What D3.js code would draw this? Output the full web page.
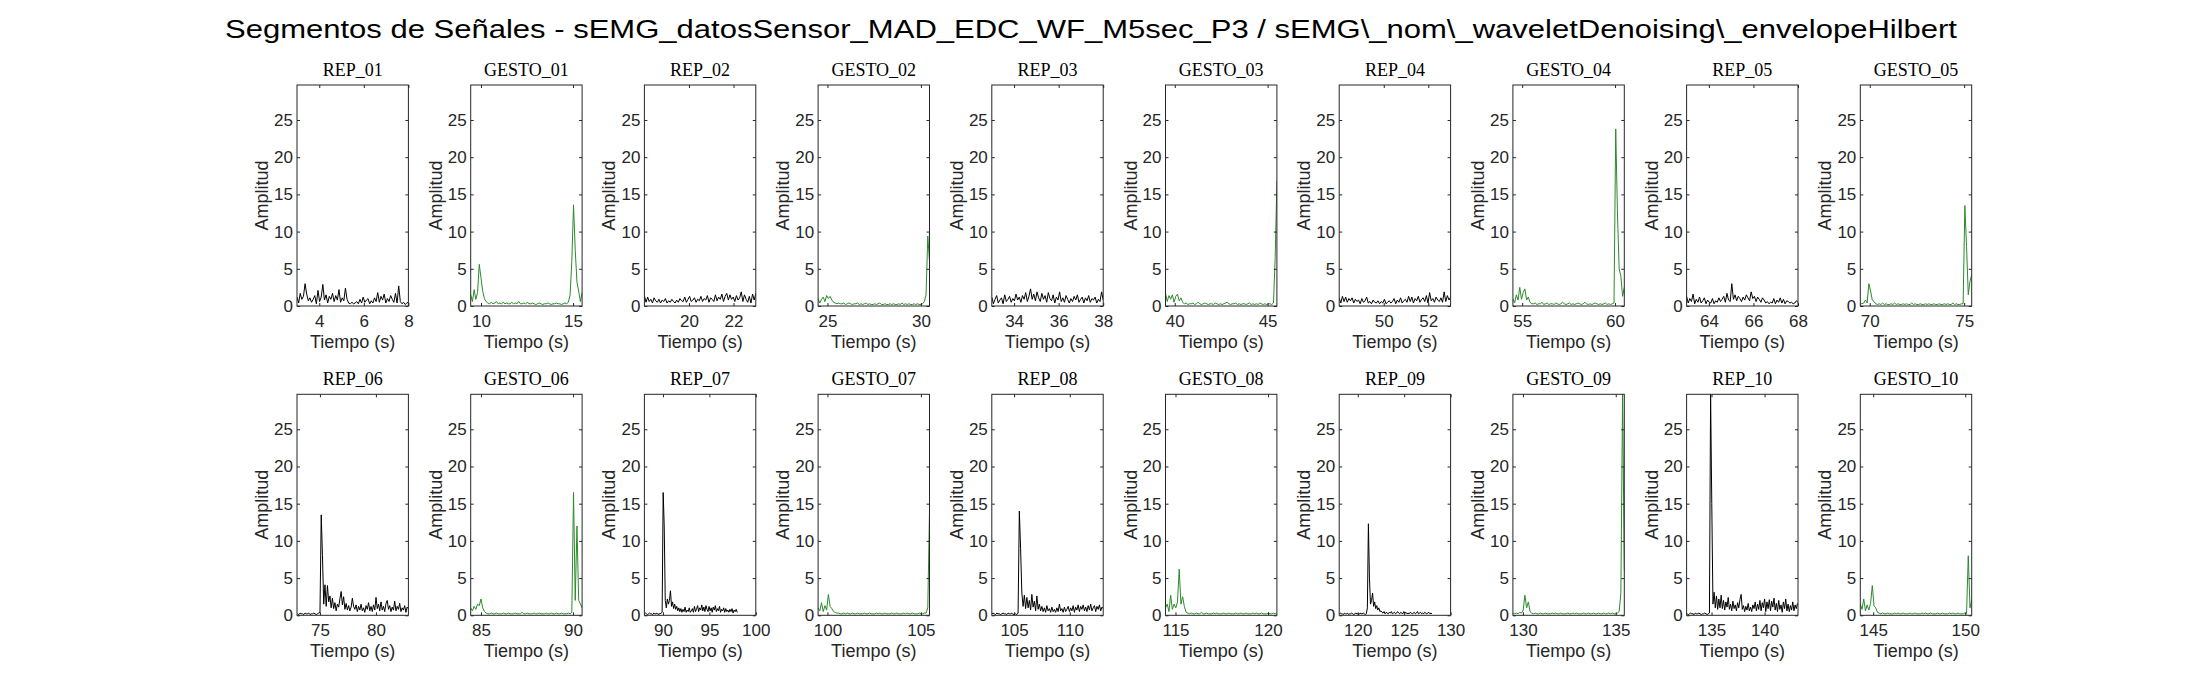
<!DOCTYPE html>
<html>
<head>
<meta charset="utf-8">
<script src="https://cdn.jsdelivr.net/npm/d3@7"></script>
<style>
body { margin: 0; background: #fff; }
svg text { font-family: "Liberation Sans", Arial, Helvetica, sans-serif; }
</style>
</head>
<body>
<svg id="fig" width="2187" height="688"></svg>
<script>
// panel titles, left-to-right, top row then bottom row
var titles = ["REP_01","GESTO_01","REP_02","GESTO_02","REP_03","GESTO_03","REP_04","GESTO_04","REP_05","GESTO_05",
              "REP_06","GESTO_06","REP_07","GESTO_07","REP_08","GESTO_08","REP_09","GESTO_09","REP_10","GESTO_10"];

// time span covered by each segment's samples (s)
var tStart = [3, 9.44, 18, 24.5, 33, 39.5, 48, 54.5, 63, 69.5,
              73, 84.44, 88, 99.5, 103, 114.46, 118, 129.46, 132.7, 144.3];
var tEnd   = [8, 15.49, 23, 30.46, 38, 45.5, 53, 60.5, 68, 75.4,
              82.9, 90.49, 98, 105.46, 113, 120.48, 128, 135.46, 143.1, 150.35];

// x limits of each axes
var xLims = [[3,8],[9.44,15.49],[18,23],[24.5,30.46],[33,38],[39.5,45.5],[48,53],[54.5,60.5],[63,68],[69.5,75.4],
             [72.95,82.9],[84.44,90.49],[88,100],[99.5,105.46],[103,113],[114.46,120.48],[118,130],[129.46,135.46],[132.65,143.15],[144.3,150.35]];

var xTicks = [[4,6,8],[10,15],[20,22],[25,30],[34,36,38],[40,45],[50,52],[55,60],[64,66,68],[70,75],
              [75,80],[85,90],[90,95,100],[100,105],[105,110],[115,120],[120,125,130],[130,135],[135,140],[145,150]];

var yTicks = [0, 5, 10, 15, 20, 25];

// amplitude samples (evenly spaced between tStart and tEnd)
var rep01 = [1.2,0.4,1.7,0.9,1.3,3.0,1.6,0.7,1.1,0.5,
  0.9,1.4,0.3,2.1,0.6,1.2,2.9,0.8,1.5,0.4,
  1.3,0.9,1.7,0.6,1.4,0.8,2.2,0.5,1.1,0.7,
  2.4,0.9,0.4,0.3,0.5,0.3,0.4,0.6,0.3,0.9,
  0.4,1.2,0.5,0.8,1.0,0.3,0.7,0.4,1.1,0.6,
  1.8,0.5,1.3,0.8,1.6,0.4,1.0,0.6,1.4,0.9,
  0.5,1.7,0.4,2.7,0.6,0.3,0.5,0.2,0.4,0.5];

var gesto01 = [1.5,0.6,2.2,0.9,1.8,5.6,3.8,2.0,1.0,0.6,0.4,
  0.3,0.5,0.3,0.4,0.6,0.3,0.4,0.3,0.5,0.3,
  0.4,0.3,0.3,0.5,0.3,0.4,0.3,0.6,0.3,0.3,
  0.4,0.3,0.5,0.3,0.3,0.4,0.3,0.2,0.3,0.4,
  0.3,0.2,0.3,0.3,0.4,0.3,0.2,0.3,0.3,0.4,
  0.3,0.3,0.2,0.3,0.4,0.3,0.5,
  1.5,6.0,13.6,7.5,3.2,2.0,0.6,1.8];

var rep02 = [1.4,0.5,1.2,0.6,0.9,0.4,1.1,0.7,0.5,0.9,
  0.4,0.8,0.6,1.0,0.4,0.7,0.5,0.9,0.6,0.4,
  0.8,0.5,1.0,0.7,0.6,1.2,0.5,0.9,1.3,0.6,
  0.8,1.1,0.5,0.9,0.7,1.3,0.6,1.0,0.8,1.4,
  0.5,1.1,0.9,0.6,1.5,0.7,1.2,0.9,1.6,0.6,
  1.3,1.7,0.8,1.5,0.9,1.2,0.6,1.4,0.8,1.1,
  1.9,0.6,1.5,0.9,0.5,1.3,0.4,1.6,0.8,1.7];

var gesto02 = [1.0,0.4,0.9,1.2,0.6,1.4,1.0,1.3,0.8,0.5,0.4,0.3,
  0.4,0.3,0.3,0.4,0.2,0.3,0.4,0.3,0.2,0.3,
  0.3,0.4,0.2,0.3,0.2,0.3,0.4,0.2,0.3,0.2,
  0.2,0.3,0.2,0.3,0.4,0.2,0.2,0.3,0.2,0.2,
  0.3,0.2,0.3,0.2,0.2,0.3,0.2,0.4,0.2,0.3,
  0.2,0.3,0.2,0.2,0.3,0.2,0.3,0.2,0.2,
  0.3,0.6,1.5,9.4,6.0];

var rep03 = [1.2,0.3,0.9,1.4,0.4,0.8,1.1,0.3,1.5,0.6,
  0.9,1.3,0.5,1.0,0.7,1.6,0.8,1.2,0.5,1.4,
  0.9,1.8,0.6,1.3,2.3,0.9,1.6,0.7,1.9,1.1,
  0.6,1.7,0.9,1.4,0.5,1.8,1.0,0.7,1.5,0.4,
  1.2,0.8,1.9,0.6,1.1,0.5,1.4,0.9,0.4,1.0,
  0.6,1.3,0.8,1.5,0.5,0.9,1.2,0.4,1.1,0.7,
  1.4,0.5,1.0,0.8,1.2,0.4,0.9,0.6,1.9,0.8];

var gesto03 = [1.7,0.6,1.4,0.9,1.5,0.5,1.3,1.6,0.7,1.1,0.5,0.3,
  0.4,0.2,0.3,0.3,0.4,0.2,0.3,0.5,0.3,0.2,
  0.3,0.4,0.3,0.2,0.3,0.3,0.2,0.4,0.3,0.2,
  0.3,0.2,0.3,0.4,0.5,0.3,0.2,0.3,0.3,0.4,
  0.2,0.3,0.2,0.3,0.3,0.2,0.3,0.4,0.2,0.3,
  0.2,0.3,0.2,0.4,0.3,0.2,0.3,0.2,0.3,0.3,
  0.2,
  0.4,6.5,16.8];

var rep04 = [1.1,0.4,1.3,0.6,1.2,0.5,1.0,0.7,1.1,0.4,
  0.9,0.6,0.8,0.3,1.0,0.5,0.7,1.2,0.4,0.6,
  0.3,0.8,0.5,0.4,0.7,0.3,0.6,0.4,0.9,0.3,
  0.5,0.7,0.4,0.6,1.0,0.3,0.8,0.5,1.1,0.4,
  0.7,0.9,0.5,1.3,0.6,1.2,0.4,1.0,0.7,1.3,
  0.5,0.9,1.1,0.6,1.4,0.4,1.8,0.7,1.0,0.5,
  1.2,0.8,0.6,1.1,0.5,1.9,0.6,1.4,0.8,1.2];

var gesto04 = [1.0,0.4,1.5,0.8,2.5,0.9,1.8,2.3,0.8,1.2,0.5,0.3,
  0.3,0.4,0.2,0.3,0.3,0.5,0.2,0.3,0.4,0.2,
  0.3,0.3,0.2,0.4,0.3,0.2,0.3,0.5,0.3,0.2,
  0.3,0.4,0.2,0.3,0.2,0.3,0.4,0.3,0.2,0.3,
  0.5,0.3,0.2,0.3,0.2,0.3,0.4,0.3,0.2,0.3,
  0.2,0.3,0.4,0.2,0.3,0.2,0.3,
  0.4,23.8,12.5,5.0,4.0,1.3,2.5];

var rep05 = [1.3,0.4,1.0,0.6,1.6,0.3,0.9,0.5,1.2,0.4,
  0.7,1.1,0.3,0.8,0.5,0.4,1.0,0.3,0.7,0.5,
  1.1,0.6,0.9,1.3,0.5,1.7,0.8,0.6,3.0,0.9,
  1.5,0.7,1.3,1.0,0.6,1.2,0.8,1.5,1.1,0.7,
  1.9,1.0,1.3,0.6,1.2,0.9,0.5,1.1,0.8,0.4,
  0.6,0.3,0.5,0.4,1.0,0.3,0.8,0.5,1.1,0.4,
  0.9,0.3,0.7,0.6,0.4,0.5,0.3,0.4,0.7,0.5];

var gesto05 = [0.3,0.3,0.4,0.8,0.4,3.0,2.0,0.8,0.6,0.3,
  0.2,0.3,0.2,0.4,0.2,0.3,0.2,0.2,0.3,0.2,
  0.4,0.2,0.3,0.2,0.2,0.3,0.2,0.3,0.2,0.2,
  0.4,0.2,0.3,0.2,0.2,0.3,0.2,0.2,0.3,0.2,
  0.3,0.2,0.2,0.3,0.2,0.2,0.3,0.2,0.2,0.3,
  0.2,0.3,0.2,0.2,0.4,0.2,0.3,0.2,0.2,0.3,
  0.3,13.5,8.0,1.5,3.3,4.2];

var rep06 = [0.2,0.1,0.3,0.2,0.2,0.1,0.3,0.2,0.2,0.3,
  0.1,0.2,0.2,0.3,0.2,0.1,0.2,0.3,0.4,13.5,
  8.0,1.5,4.1,1.2,4.0,1.8,2.6,1.0,2.3,0.9,
  1.7,0.6,1.5,1.1,2.2,3.2,1.4,2.5,0.8,1.6,
  0.7,1.3,0.6,1.1,2.3,1.2,0.8,1.4,0.5,1.2,
  0.7,1.5,0.6,1.0,0.4,1.3,0.8,1.7,0.6,1.2,
  0.5,1.4,0.7,2.4,0.9,1.5,0.6,1.8,0.7,1.2,
  0.5,1.6,2.0,0.8,1.3,0.5,1.1,0.7,1.9,0.6,
  1.2,0.8,1.6,0.5,1.0,0.7,1.3,0.4,1.1,0.9];

var gesto06 = [1.0,0.6,1.2,0.8,1.5,1.3,2.2,1.0,0.5,0.3,
  0.2,0.2,0.3,0.2,0.2,0.3,0.2,0.2,0.2,0.3,
  0.2,0.2,0.3,0.2,0.2,0.2,0.3,0.2,0.2,0.2,
  0.4,0.2,0.2,0.3,0.2,0.2,0.2,0.3,0.2,0.2,
  0.3,0.2,0.2,0.2,0.3,0.2,0.2,0.3,0.2,0.2,
  0.3,0.2,0.2,0.3,0.2,0.2,0.2,0.3,0.2,
  0.4,16.5,2.0,12.0,2.0,1.5,1.0];

var rep07 = [0.2,0.3,0.2,0.1,0.2,0.3,0.2,0.2,0.1,0.3,
  0.2,0.2,0.3,0.1,0.2,0.2,0.3,0.4,16.5,12.0,
  2.0,1.0,2.2,1.5,2.0,3.3,1.2,1.8,0.9,1.5,
  0.8,1.2,0.6,1.0,0.5,0.9,0.4,0.8,0.5,1.1,
  0.4,0.7,0.5,1.0,0.4,0.6,0.9,0.4,1.2,0.5,
  0.8,1.3,0.5,1.0,0.7,1.4,0.6,1.1,0.5,1.3,
  0.8,0.5,1.2,0.6,1.0,0.4,1.1,0.7,1.3,0.5,
  0.9,0.6,1.2,0.4,0.8,0.6,1.0,0.4,0.9,0.5,
  0.7,0.4,0.8,0.5,0.9,0.3,0.7,0.5,0.8,0.4];

var gesto07 = [1.0,0.6,1.7,0.5,1.3,0.7,2.8,1.2,0.9,0.5,0.4,0.3,
  0.3,0.2,0.2,0.3,0.2,0.3,0.2,0.2,0.3,0.2,
  0.2,0.3,0.2,0.2,0.2,0.3,0.2,0.2,0.3,0.2,
  0.2,0.2,0.3,0.2,0.3,0.2,0.2,0.3,0.2,0.2,
  0.2,0.3,0.2,0.2,0.3,0.2,0.2,0.2,0.3,0.2,
  0.3,0.2,0.2,0.3,0.2,0.2,0.2,0.3,0.2,0.2,
  0.3,
  0.3,1.0,14.0];

var rep08 = [0.2,0.3,0.2,0.1,0.3,0.2,0.2,0.1,0.2,0.3,
  0.2,0.2,0.1,0.3,0.2,0.2,0.3,0.1,0.2,0.2,
  0.1,0.3,14.0,9.0,3.0,1.2,2.7,0.9,2.4,1.0,
  2.0,0.7,2.8,1.1,1.9,0.6,2.6,0.8,1.5,0.6,
  1.2,0.5,1.0,0.4,1.3,0.6,0.9,0.4,1.1,0.5,
  0.8,0.4,1.0,0.5,1.5,0.6,0.9,0.4,1.1,0.5,
  0.8,1.2,0.5,1.0,0.6,1.3,0.4,1.1,0.7,1.4,
  0.5,1.2,0.8,1.4,0.6,1.1,0.5,1.3,0.7,1.5,
  0.6,1.0,1.3,0.5,1.2,0.8,1.4,0.6,1.1,0.9];

var gesto08 = [1.0,1.5,0.5,2.7,0.8,1.5,1.0,1.8,6.2,1.5,2.5,1.2,0.4,0.3,
  0.2,0.3,0.2,0.2,0.3,0.2,0.2,0.4,0.2,0.2,
  0.3,0.2,0.2,0.2,0.3,0.2,0.3,0.2,0.2,0.2,
  0.3,0.2,0.2,0.3,0.2,0.2,0.2,0.3,0.2,0.2,
  0.3,0.2,0.2,0.3,0.2,0.2,0.2,0.3,0.2,0.3,
  0.2,0.2,0.3,0.2,0.2,0.2,0.3,0.2,0.2,0.3,
  0.2,0.3];

var rep09 = [0.2,0.3,0.2,0.2,0.1,0.3,0.2,0.2,0.3,0.1,
  0.2,0.2,0.3,0.2,0.1,0.2,0.3,0.2,0.2,0.1,
  0.3,0.2,0.2,0.3,0.2,0.1,0.2,1.0,12.3,5.0,
  1.5,2.0,3.0,1.2,1.8,0.9,1.3,0.7,1.0,0.5,
  0.6,0.4,0.3,0.5,0.2,0.4,0.3,0.2,0.4,0.3,
  0.5,0.2,0.3,0.4,0.2,0.3,0.5,0.3,0.2,0.4,
  0.3,0.2,0.5,0.3,0.4,0.2,0.3,0.2,0.4,0.3,
  0.2,0.3,0.4,0.2,0.3,0.5,0.2,0.3,0.4,0.2,
  0.3,0.2,0.4,0.3,0.2,0.3,0.4,0.2,0.3,0.2];

var gesto09 = [0.3,0.2,0.3,0.2,0.4,0.3,0.7,2.7,1.0,1.8,0.5,0.3,
  0.2,0.3,0.2,0.2,0.3,0.2,0.2,0.3,0.2,0.2,
  0.2,0.3,0.2,0.3,0.2,0.2,0.3,0.2,0.2,0.2,
  0.3,0.2,0.2,0.3,0.2,0.3,0.2,0.2,0.2,0.3,
  0.2,0.2,0.3,0.2,0.2,0.3,0.2,0.2,0.3,0.2,
  0.2,0.3,0.2,0.2,0.3,0.2,0.3,0.2,0.2,0.3,
  0.5,3.0,29.7,6.0];

var rep10 = [0.2,0.1,0.2,0.3,0.2,0.2,0.1,0.3,0.2,0.2,
  0.3,0.2,0.1,0.2,0.2,0.3,0.2,0.1,0.2,0.3,
  29.7,15.0,1.5,3.1,1.0,2.6,0.8,2.2,1.0,2.7,
  0.9,2.0,0.7,1.8,1.1,2.4,0.8,1.5,0.6,1.9,
  0.9,1.4,0.6,1.7,1.0,2.1,2.8,0.8,1.3,0.5,
  1.2,0.7,1.6,0.6,1.1,0.5,1.4,0.9,1.8,0.6,
  1.5,0.8,2.0,0.6,1.7,1.0,2.2,0.5,1.8,0.9,
  2.1,0.6,1.9,1.1,2.3,0.7,1.6,0.5,2.0,0.8,
  1.4,0.4,1.8,0.9,2.2,0.6,1.5,0.5,1.3,0.7,
  1.8,0.6,1.4,0.9,1.6];

var gesto10 = [1.5,0.8,2.2,0.6,1.4,0.7,1.6,4.0,1.3,1.0,0.4,0.3,
  0.2,0.3,0.2,0.2,0.3,0.2,0.2,0.2,0.3,0.2,
  0.3,0.2,0.2,0.3,0.2,0.2,0.2,0.3,0.2,0.2,
  0.3,0.2,0.2,0.2,0.3,0.2,0.3,0.2,0.2,0.3,
  0.2,0.2,0.2,0.3,0.2,0.2,0.3,0.2,0.2,0.2,
  0.3,0.2,0.3,0.2,0.2,0.3,0.2,0.2,0.2,0.3,
  0.2,8.0,1.0,2.0];

var series = [rep01, gesto01, rep02, gesto02, rep03, gesto03, rep04, gesto04, rep05, gesto05,
              rep06, gesto06, rep07, gesto07, rep08, gesto08, rep09, gesto09, rep10, gesto10];

var mainTitle = "Segmentos de Señales - sEMG_datosSensor_MAD_EDC_WF_M5sec_P3 / sEMG\\_nom\\_waveletDenoising\\_envelopeHilbert";

var svg = d3.select("#fig");
var axColor = "#262626";
var repColor = "#000000", gestoColor = "#2b8a2b";

// layout of the 2 x 10 grid
var col0 = 297, colStep = 173.7, axW = 111.4, axH = 221;
var rowTop = [85, 394.3];

var yMax = d3.max(series, function(s) { return d3.max(s); });

svg.append("text")
	.attr("x", 1091)
	.attr("y", 38)
	.attr("text-anchor", "middle")
	.attr("font-size", 26.5)
	.attr("textLength", 1732)
	.attr("lengthAdjust", "spacingAndGlyphs")
	.attr("fill", "#000")
	.text(mainTitle);

series.forEach(function(vals, k) {
	var col = k % 10, row = Math.floor(k / 10);
	var left = col0 + col * colStep, top = rowTop[row];
	var isRep = titles[k].indexOf("REP") === 0;

	var x = d3.scaleLinear().domain(xLims[k]).range([0, axW]);
	var y = d3.scaleLinear().domain([0, yMax]).range([axH, 0]);

	var g = svg.append("g").attr("transform", "translate(" + left + "," + top + ")");

	g.append("clipPath").attr("id", "clip" + k)
		.append("rect").attr("width", axW).attr("height", axH);

	var dt = (tEnd[k] - tStart[k]) / (vals.length - 1);
	var line = d3.line()
		.x(function(d, i) { return x(tStart[k] + i * dt); })
		.y(function(d) { return y(d); });

	g.append("path")
		.datum(vals)
		.attr("clip-path", "url(#clip" + k + ")")
		.attr("fill", "none")
		.attr("stroke", isRep ? repColor : gestoColor)
		.attr("stroke-width", 1)
		.attr("stroke-linejoin", "round")
		.attr("d", line);

	// axes with inward ticks on all four sides
	var bottom = g.append("g").attr("transform", "translate(0," + axH + ")")
		.call(d3.axisBottom(x).tickValues(xTicks[k]).tickSize(-3).tickPadding(9).tickFormat(d3.format("d")));
	var topAx = g.append("g")
		.call(d3.axisTop(x).tickValues(xTicks[k]).tickSize(-3).tickFormat(""));
	var leftAx = g.append("g")
		.call(d3.axisLeft(y).tickValues(yTicks).tickSize(-3).tickPadding(4).tickFormat(d3.format("d")));
	var rightAx = g.append("g").attr("transform", "translate(" + axW + ",0)")
		.call(d3.axisRight(y).tickValues(yTicks).tickSize(-3).tickFormat(""));

	[bottom, topAx, leftAx, rightAx].forEach(function(a) {
		a.select(".domain").remove();
		a.attr("font-family", null).attr("font-size", null);
		a.selectAll(".tick line").attr("stroke", axColor);
		a.selectAll(".tick text").attr("fill", axColor).attr("font-size", 17);
	});

	g.append("rect")
		.attr("width", axW).attr("height", axH)
		.attr("fill", "none")
		.attr("stroke", axColor)
		.attr("stroke-width", 1);

	g.append("text")
		.attr("x", axW / 2).attr("y", axH + 42)
		.attr("text-anchor", "middle")
		.attr("font-size", 18)
		.attr("fill", axColor)
		.text("Tiempo (s)");

	g.append("text")
		.attr("transform", "translate(-29," + (axH / 2) + ") rotate(-90)")
		.attr("text-anchor", "middle")
		.attr("font-size", 18)
		.attr("fill", axColor)
		.text("Amplitud");

	g.append("text")
		.attr("x", axW / 2).attr("y", -9)
		.attr("text-anchor", "middle")
		.attr("font-size", 18)
		.attr("fill", "#000")
		.style("font-family", "'Liberation Serif', 'Times New Roman', serif")
		.text(titles[k]);
});
</script>
</body>
</html>
